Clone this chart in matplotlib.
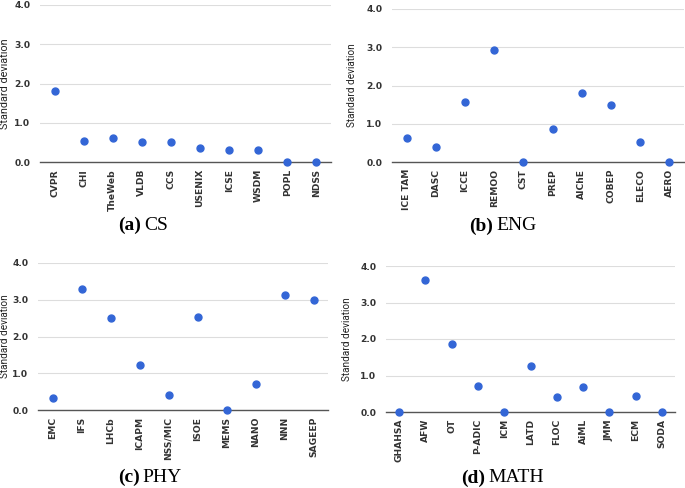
import matplotlib.pyplot as plt

W, H = 685, 488

cs_venues = ["CVPR", "CHI", "TheWeb", "VLDB", "CCS", "USENIX", "ICSE", "WSDM", "POPL", "NDSS"]
cs_std = [1.81, 0.53, 0.61, 0.51, 0.50, 0.36, 0.31, 0.30, 0.0, 0.0]

eng_venues = ["ICE TAM", "DASC", "ICCE", "REMOO", "CST", "PREP", "AIChE", "COBEP", "ELECO", "AERO"]
eng_std = [0.63, 0.40, 1.56, 2.92, 0.0, 0.87, 1.81, 1.50, 0.51, 0.0]

phy_venues = ["EMC", "IFS", "LHCb", "ICAPM", "NSS/MIC", "ISOE", "MEMS", "NANO", "NNN", "SAGEEP"]
phy_std = [0.34, 3.28, 2.50, 1.23, 0.41, 2.52, 0.0, 0.71, 3.13, 2.99]

math_venues = ["GHAHSA", "AFW", "OT", "P-ADIC", "ICM", "LATD", "FLOC", "AiML", "JMM", "ECM", "SODA"]
math_std = [0.0, 3.61, 1.85, 0.70, 0.0, 1.26, 0.40, 0.69, 0.0, 0.45, 0.0]

yticks = [0.0, 1.0, 2.0, 3.0, 4.0]


def panel(fig, box, names, vals, letter, field, ylab_size, ylab_x, cap_xy):
    l, r, t, b = box
    ax = fig.add_axes([l / W, 1 - b / H, (r - l) / W, (b - t) / H])
    xs = range(len(names))
    ax.plot(xs, vals, "o", color="#3366d6", markersize=5.0, clip_on=False, zorder=3)
    ax.set_xlim(-0.5, len(names) - 0.5)
    ax.set_ylim(0, 4)
    for s in ["top", "right", "left"]:
        ax.spines[s].set_visible(False)
    ax.spines["bottom"].set_color("#555555")
    ax.spines["bottom"].set_linewidth(1.0)
    ax.grid(axis="y", color="#dddddd", linewidth=0.8)
    ax.set_axisbelow(True)
    ax.tick_params(axis="x", length=0, pad=5)
    ax.tick_params(axis="y", length=0, pad=7)
    font = dict(family="DejaVu Sans", weight="bold", size=6.6, color="#333333")
    ax.set_yticks(yticks)
    ax.set_yticklabels(["%.1f" % v for v in yticks], fontdict=font)
    ax.set_xticks(list(xs))
    ax.set_xticklabels(names, rotation=90, va="top", ha="center", fontdict=font)
    ax.set_ylabel("Standard deviation", fontsize=ylab_size, family="Roboto",
                  color="#222222")
    ax.yaxis.set_label_coords((ylab_x - l) / (r - l), 0.5)
    cx, cy = cap_xy[0] / W, 1 - cap_xy[1] / H
    fig.text(cx - 0.030, cy, "(" + letter + ")", ha="right", va="center", fontsize=14,
             fontweight="bold", family="Liberation Serif")
    fig.text(cx - 0.026, cy, field, ha="left", va="center", fontsize=14,
             family="Liberation Serif")
    return ax


fig = plt.figure(figsize=(W / 100, H / 100), dpi=100)
panel(fig, (40, 331, 5, 162), cs_venues, cs_std, "a", "CS", 7.8, 10, (162, 225))
panel(fig, (392, 684, 9, 162), eng_venues, eng_std, "b", "ENG", 7.2, 357, (514, 226))
panel(fig, (38, 328, 263, 410), phy_venues, phy_std, "c", "PHY", 7.2, 10, (160, 477))
panel(fig, (386, 675, 266, 412), math_venues, math_std, "d", "MATH", 7.2, 352, (506, 478))
fig.savefig("out.png", dpi=100)
